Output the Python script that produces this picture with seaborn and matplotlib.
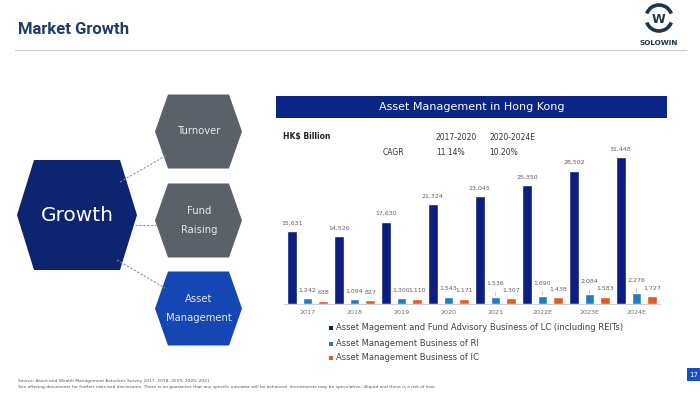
import matplotlib
matplotlib.use("Agg")
import matplotlib.pyplot as plt
from matplotlib.patches import Polygon, Rectangle, Arc
import pandas as pd
import seaborn as sns

# data
years = ["2017", "2018", "2019", "2020", "2021", "2022E", "2023E", "2024E"]
lc_values = [15631, 14526, 17630, 21324, 23045, 25350, 28502, 31448]
ri_values = [1242, 1094, 1300, 1543, 1536, 1690, 2084, 2276]
ic_values = [638, 827, 1110, 1171, 1307, 1438, 1583, 1727]
series_names = [
    "Asset Magement and Fund Advisory Business of LC (including REITs)",
    "Asset Management Business of RI",
    "Asset Management Business of IC",
]
series_colors = ["#0c1f80", "#1f7cc4", "#e35a25"]
cagr_periods = ["2017-2020", "2020-2024E"]
cagr_values = ["11.14%", "10.20%"]
growth_items = ["Turnover", "Fund\nRaising", "Asset\nManagement"]

df = pd.DataFrame({
    "year": years * 3,
    "value": lc_values + ri_values + ic_values,
    "series": [n for n in series_names for _ in years],
})

sns.set_style("white")
plt.rcParams["font.family"] = ["DejaVu Sans"]

fig = plt.figure(figsize=(7, 3.94), dpi=100)

# background layer in pixel coordinates
bg = fig.add_axes([0, 0, 1, 1])
bg.set_xlim(0, 700)
bg.set_ylim(394, 0)
bg.axis("off")


def hexagon(cx, cy, w, h, inset, color):
    pts = [(cx - w / 2, cy), (cx - w / 2 + inset, cy - h / 2), (cx + w / 2 - inset, cy - h / 2),
           (cx + w / 2, cy), (cx + w / 2 - inset, cy + h / 2), (cx - w / 2 + inset, cy + h / 2)]
    bg.add_patch(Polygon(pts, closed=True, color=color, lw=0))


# header
bg.text(18, 29, "Market Growth", fontsize=12, fontweight="bold", color="#1d3b6b",
        va="center", family=["Roboto", "DejaVu Sans"])
bg.plot([15, 686], [50, 50], color="#c8c8c8", lw=0.8)
bg.add_patch(Arc((659, 18), 26, 26, theta1=200, theta2=340, color="#1e3550", lw=2.6))
bg.add_patch(Arc((659, 18), 26, 26, theta1=20, theta2=160, color="#1e3550", lw=2.6))
bg.text(659, 19, "W", fontsize=9, fontweight="bold", color="#1e3550", ha="center", va="center")
bg.text(659, 43, "SOLOWIN", fontsize=5.2, fontweight="bold", color="#1e3550", ha="center", va="center")

# hexagon diagram
for (x1, y1), (x2, y2) in [((120, 182), (167, 155)), ((135, 225), (156, 225)), ((117, 260), (165, 288))]:
    bg.plot([x1, x2], [y1, y2], color="#8a8f96", lw=0.8, ls=(0, (2, 1.5)))
hexagon(77, 215, 120, 110, 17, "#0d2471")
bg.text(77, 215, "Growth", fontsize=14.5, color="white", ha="center", va="center")
hex_y = [131.5, 220.5, 308.5]
hex_col = ["#5b6168", "#5b6168", "#1446b4"]
for item, cy, col in zip(growth_items, hex_y, hex_col):
    hexagon(198.5, cy, 87, 74, 13, col)
    bg.text(199, cy, item, fontsize=7.2, color="#e6e8eb", ha="center", va="center", linespacing=2.05)

# chart header
bg.add_patch(Rectangle((276, 96), 391, 22, color="#0b2486", lw=0))
bg.text(472, 107, "Asset Management in Hong Kong", fontsize=8, color="white", ha="center", va="center")
bg.text(283, 137, "HK$ Billion", fontsize=5.5, fontweight="bold", color="#222222", va="center")
bg.text(383, 152, "CAGR", fontsize=5.5, color="#333333", va="center")
for x, period, val in zip([436, 489], cagr_periods, cagr_values):
    bg.text(x, 137, period, fontsize=5.5, color="#333333", va="center")
    bg.text(x, 152, val, fontsize=5.5, color="#333333", va="center")

# legend
for y, name, col in zip([328, 343.7, 357.7], series_names, series_colors):
    bg.add_patch(Rectangle((329, y - 2.2), 4.4, 4.4, color=col, lw=0))
    bg.text(336, y, name, fontsize=6, color="#404040", va="center")

# footer
bg.text(18, 381, "Source: Asset and Wealth Management Activities Survey 2017, 2018, 2019, 2020, 2021",
        fontsize=3.2, color="#555555", va="center")
bg.text(18, 387, "See offering documents for further risks and disclosures. There is no guarantee that any "
        "specific outcome will be achieved. Investments may be speculative, illiquid and there is a risk of loss.",
        fontsize=3.2, color="#555555", va="center")
bg.add_patch(Rectangle((687, 368), 13, 13, color="#1a4fc2", lw=0))
bg.text(693.5, 374.7, "17", fontsize=5, color="white", ha="center", va="center")

# bar chart
ax = fig.add_axes([284 / 700, 1 - 304 / 394, 376 / 700, 168.3 / 394])
ax.patch.set_alpha(0)
sns.barplot(data=df, x="year", y="value", hue="series", palette=series_colors,
            width=1.0, gap=0.38, saturation=1, legend=False, ax=ax)
ax.set_xlim(-0.5, 7.5)
ax.set_ylim(0, 36000)
ax.set_xlabel("")
ax.set_ylabel("")
ax.set_yticks([])
sns.despine(ax=ax, left=True)
ax.spines["bottom"].set_color("#d0d0d0")
ax.spines["bottom"].set_linewidth(0.7)
ax.tick_params(axis="x", length=0, labelsize=4.6, labelcolor="#707070", pad=4)

for k, cont in enumerate(ax.containers):
    for i, bar in enumerate(cont):
        h = bar.get_height()
        x = bar.get_x() + bar.get_width() / 2
        txt = f"{h:,.0f}"
        if k == 1 and i >= 4:
            ax.annotate(txt, (x, h), xytext=(0, 9.5), textcoords="offset points",
                        ha="center", va="center", fontsize=4.5, color="#606060",
                        arrowprops=dict(arrowstyle="-", color="#a0a0a0", lw=0.4, shrinkA=2, shrinkB=0.5))
        else:
            ax.annotate(txt, (x, h), xytext=(0, 5.8), textcoords="offset points",
                        ha="center", va="center", fontsize=4.5, color="#606060")

fig.savefig("out.png", dpi=100)
